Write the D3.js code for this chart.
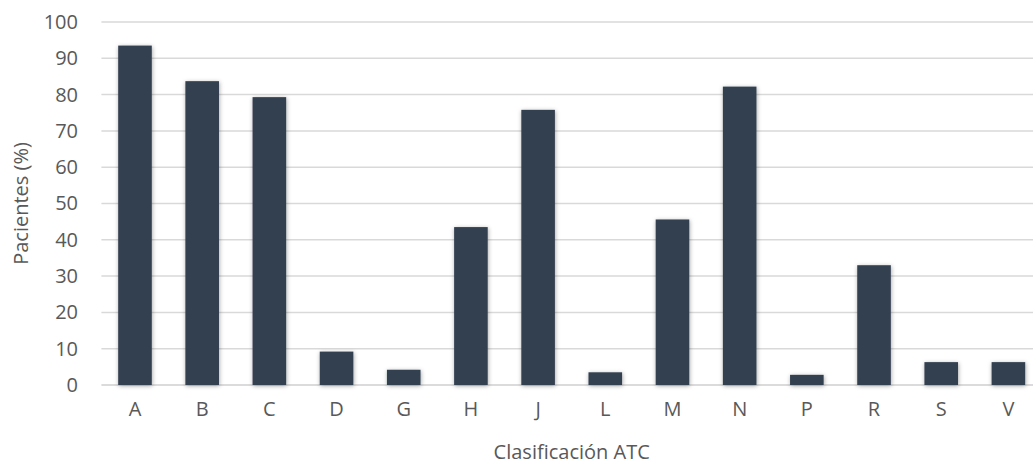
<!DOCTYPE html>
<html>
<head>
<meta charset="utf-8">
<script src="https://cdn.jsdelivr.net/npm/d3@7"></script>
<style>
  html, body { margin: 0; padding: 0; background: #fff; }
  svg { display: block; font-family: "Open Sans", sans-serif; }
</style>
</head>
<body>
<svg id="chart" width="1033" height="464"></svg>
<script>
// ATC groups and share of patients (%)
const categories = ["A", "B", "C", "D", "G", "H", "J", "L", "M", "N", "P", "R", "S", "V"];
const values = [93.5, 83.7, 79.3, 9.2, 4.2, 43.5, 75.8, 3.5, 45.6, 82.2, 2.8, 33.0, 6.3, 6.3];
const yTicks = [0, 10, 20, 30, 40, 50, 60, 70, 80, 90, 100];

const svg = d3.select("#chart");
const margin = { left: 101.4, right: -9, top: 22, bottom: 79 };
const W = 1033, H = 464;

const x = d3.scaleBand()
  .domain(categories)
  .range([margin.left, W - margin.right])
  .paddingInner(0.5)
  .paddingOuter(0.25);

const y = d3.scaleLinear()
  .domain([0, 100])
  .range([H - margin.bottom, margin.top]);

// soft shadow on the bars
const defs = svg.append("defs");
const f = defs.append("filter").attr("id", "shadow")
  .attr("x", "-30%").attr("y", "-10%").attr("width", "160%").attr("height", "120%");
f.append("feDropShadow")
  .attr("dx", 0.5).attr("dy", 1)
  .attr("stdDeviation", 2)
  .attr("flood-color", "#000")
  .attr("flood-opacity", 0.35);

// gridlines
svg.append("g")
  .selectAll("line")
  .data(yTicks)
  .join("line")
  .attr("x1", margin.left)
  .attr("x2", W)
  .attr("y1", d => y(d))
  .attr("y2", d => y(d))
  .attr("stroke", d => d === 0 ? "#cfcfcf" : "#d9d9d9")
  .attr("stroke-width", 1.5);

// y axis labels
const yAxis = d3.axisLeft(y).tickValues(yTicks).tickSize(0).tickPadding(0);
svg.append("g")
  .attr("transform", `translate(78,0)`)
  .call(yAxis)
  .call(g => g.select(".domain").remove())
  .call(g => g.selectAll("text")
    .attr("fill", "#595959")
    .attr("font-size", 20)
    .attr("font-family", "'Open Sans', sans-serif"));

// bars
svg.append("g")
  .attr("filter", "url(#shadow)")
  .selectAll("rect")
  .data(categories.map((c, i) => ({ c, v: values[i] })))
  .join("rect")
  .attr("x", d => x(d.c))
  .attr("width", x.bandwidth())
  .attr("y", d => y(d.v))
  .attr("height", d => y(0) - y(d.v))
  .attr("fill", "#333f50");

// x axis labels
const xAxis = d3.axisBottom(x).tickSize(0).tickPadding(0);
svg.append("g")
  .attr("transform", `translate(0,${y(0) + 17})`)
  .call(xAxis)
  .call(g => g.select(".domain").remove())
  .call(g => g.selectAll("text")
    .attr("fill", "#595959")
    .attr("font-size", 20)
    .attr("font-family", "'Open Sans', sans-serif"));

// axis titles
svg.append("text")
  .attr("x", (margin.left + W - margin.right) / 2)
  .attr("y", 459)
  .attr("text-anchor", "middle")
  .attr("fill", "#595959")
  .attr("font-size", 20)
  .text("Clasificación ATC");

svg.append("text")
  .attr("transform", `translate(28,${(y(0) + y(100)) / 2}) rotate(-90)`)
  .attr("text-anchor", "middle")
  .attr("fill", "#595959")
  .attr("font-size", 20)
  .text("Pacientes (%)");
</script>
</body>
</html>
